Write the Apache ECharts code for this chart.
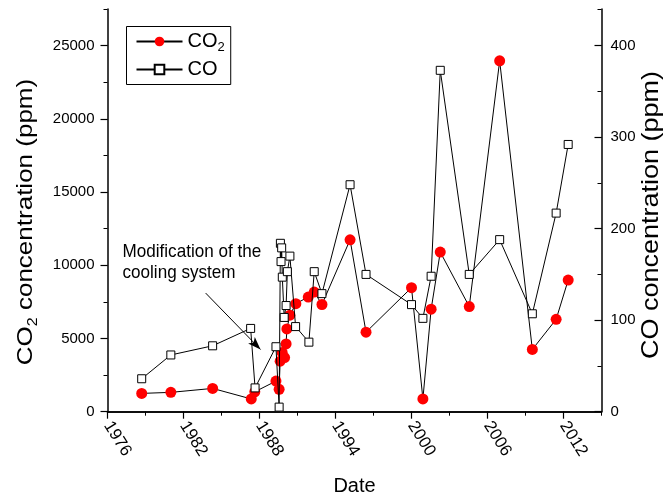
<!DOCTYPE html>
<html>
<head>
<meta charset="utf-8">
<script src="https://cdn.jsdelivr.net/npm/echarts@6/dist/echarts.min.js"></script>
<style>
  html, body { margin: 0; padding: 0; background: #fff; }
  #chart { width: 667px; height: 494px; }
</style>
</head>
<body>
<div id="chart"></div>
<script>
// CO2 measurements (ppm) by decimal year
const co2Years = [1978.7, 1981.0, 1984.3, 1987.35, 1987.63, 1989.3, 1989.55, 1989.63, 1989.79, 1989.98,
  1990.1, 1990.16, 1990.4, 1990.87, 1991.85, 1992.32, 1992.93, 1995.15, 1996.41, 2000.0,
  2000.9, 2001.55, 2002.27, 2004.56, 2006.96, 2009.54, 2011.42, 2012.37];
const co2Values = [1250, 1320, 1590, 870, 1360, 2090, 1530, 3450, 4050, 3700,
  4630, 5650, 6590, 7380, 7830, 8170, 7320, 11740, 5430, 8470,
  870, 7000, 10900, 7180, 23960, 4250, 6310, 8990];

// CO measurements (ppm) by decimal year
const coYears = [1978.7, 1981.0, 1984.3, 1987.3, 1987.65, 1989.3, 1989.55, 1989.65, 1989.7, 1989.75,
  1989.8, 1989.95, 1990.1, 1990.2, 1990.4, 1990.85, 1991.9, 1992.32, 1992.93, 1995.15,
  1996.41, 2000.0, 2000.9, 2001.55, 2002.27, 2004.56, 2006.96, 2009.54, 2011.42, 2012.37];
const coValues = [36, 62, 72, 91, 26, 71, 5, 184, 164, 179,
  147, 103, 116, 153, 170, 93, 76, 153, 129, 248,
  150, 117, 102, 148, 373, 150, 188, 107, 217, 292];

// Axis ranges and titles
const yearRange = [1976, 2015];
const co2Range = [0, 27500];
const coRange = [0, 440];
const co2Title = '{a|CO}{s|2}{a| concentration (ppm)}';
const coTitle = 'CO concentration (ppm)';

const FONT = 'Liberation Sans, Arial, sans-serif';
const BLACK = '#000';

const zip = (xs, ys) => xs.map((x, i) => [x, ys[i]]);
const plain = v => String(v);

const chart = echarts.init(document.getElementById('chart'), null, { renderer: 'canvas' });

// Vertical axis titles, drawn as rotated text so they can be slightly condensed
const sideTitle = (text, x, y, size, rich) => ({
  type: 'text', x, y, rotation: Math.PI / 2, scaleX: 1, scaleY: 0.86, silent: true,
  style: {
    text, x: 0, y: 0, align: 'center', verticalAlign: 'middle',
    font: size + 'px ' + FONT, fill: BLACK, rich
  }
});

const option = {
  animation: false,
  backgroundColor: '#fff',
  grid: { left: 107.5, right: 65.5, top: 9, bottom: 82.3, containLabel: false, outerBoundsMode: 'none' },
  legend: {
    orient: 'vertical',
    left: 126.5,
    top: 26.5,
    padding: [5, 6, 5, 9],
    itemGap: 6,
    itemWidth: 46,
    itemHeight: 12,
    borderColor: BLACK,
    borderWidth: 1,
    textStyle: {
      fontSize: 20, fontFamily: FONT, color: BLACK,
      rich: {
        a: { fontSize: 20, fontFamily: FONT, color: BLACK, lineHeight: 24, verticalAlign: 'middle' },
        s: { fontSize: 13, fontFamily: FONT, color: BLACK, lineHeight: 24, verticalAlign: 'bottom' }
      }
    },
    formatter: name => name === 'CO2' ? '{a|CO}{s|2}' : '{a|' + name + '}',
    data: ['CO2', 'CO']
  },
  xAxis: [
    {
      type: 'value', position: 'bottom', min: yearRange[0], max: yearRange[1], interval: 6,
      name: 'Date', nameLocation: 'middle', nameGap: 65,
      nameTextStyle: { fontSize: 20, fontFamily: FONT, color: BLACK },
      axisLine: { show: true, lineStyle: { color: BLACK, width: 1.5 } },
      axisTick: { show: true, length: 7, lineStyle: { color: BLACK, width: 1.2 } },
      axisLabel: { rotate: -58, margin: 11, fontSize: 17, fontFamily: FONT, color: BLACK, showMaxLabel: false, formatter: plain },
      splitLine: { show: false }
    },
    {
      type: 'value', position: 'bottom', min: yearRange[0], max: yearRange[1], interval: 3,
      axisLine: { show: false },
      axisTick: { show: true, length: 4, lineStyle: { color: BLACK, width: 1 } },
      axisLabel: { show: false },
      splitLine: { show: false }
    },
    {
      type: 'value', position: 'top', min: yearRange[0], max: yearRange[1], interval: 3,
      axisLine: { show: true, lineStyle: { color: BLACK, width: 1.5 } },
      axisTick: { show: true, inside: true, length: 3, lineStyle: { color: BLACK, width: 1 } },
      axisLabel: { show: false },
      splitLine: { show: false }
    }
  ],
  yAxis: [
    {
      type: 'value', position: 'left', min: co2Range[0], max: co2Range[1], interval: 5000,
      axisLine: { show: true, lineStyle: { color: BLACK, width: 1.5 } },
      axisTick: { show: true, length: 7, lineStyle: { color: BLACK, width: 1.2 } },
      axisLabel: { margin: 13, fontSize: 15, fontFamily: FONT, color: BLACK, showMaxLabel: false, formatter: plain },
      splitLine: { show: false }
    },
    {
      type: 'value', position: 'right', min: coRange[0], max: coRange[1], interval: 100,
      axisLine: { show: true, lineStyle: { color: BLACK, width: 1.5 } },
      axisTick: { show: true, inside: true, length: 7, lineStyle: { color: BLACK, width: 1.2 } },
      axisLabel: { margin: 9, fontSize: 15, fontFamily: FONT, color: BLACK, showMaxLabel: false, formatter: plain },
      splitLine: { show: false }
    },
    {
      type: 'value', position: 'left', min: co2Range[0], max: co2Range[1], interval: 2500,
      axisLine: { show: false },
      axisTick: { show: true, length: 4, lineStyle: { color: BLACK, width: 1 } },
      axisLabel: { show: false },
      splitLine: { show: false }
    },
    {
      type: 'value', position: 'right', min: coRange[0], max: coRange[1], interval: 50,
      axisLine: { show: false },
      axisTick: { show: true, inside: true, length: 4, lineStyle: { color: BLACK, width: 1 } },
      axisLabel: { show: false },
      splitLine: { show: false }
    }
  ],
  graphic: [
    sideTitle(co2Title, 26, 222, 26, {
      a: { fontSize: 26, fontFamily: FONT, color: BLACK, lineHeight: 32, verticalAlign: 'middle' },
      s: { fontSize: 16, fontFamily: FONT, color: BLACK, lineHeight: 32, verticalAlign: 'bottom' }
    }),
    sideTitle(coTitle, 652, 215, 27),
    {
      type: 'text', x: 122.5, y: 241.5, scaleX: 0.9, silent: true,
      style: {
        text: 'Modification of the\ncooling system',
        font: '19px ' + FONT, lineHeight: 21, fill: BLACK
      }
    }
  ],
  series: [
    {
      name: 'CO2', type: 'line', xAxisIndex: 0, yAxisIndex: 0,
      data: zip(co2Years, co2Values),
      symbol: 'circle', symbolSize: 11,
      itemStyle: { color: '#ff0000', borderWidth: 0 },
      lineStyle: { color: BLACK, width: 1 },
      markLine: {
        silent: true,
        symbol: ['none', 'arrow'],
        symbolSize: [7, 13],
        label: { show: false },
        lineStyle: { color: BLACK, width: 1, type: 'solid' },
        data: [[{ coord: [1983.75, 8100] }, { coord: [1988.08, 4250] }]]
      },
      z: 2
    },
    {
      name: 'CO', type: 'line', xAxisIndex: 0, yAxisIndex: 1,
      data: zip(coYears, coValues),
      symbol: 'rect', symbolSize: 8,
      itemStyle: { color: '#fff', borderColor: BLACK, borderWidth: 1 },
      lineStyle: { color: BLACK, width: 1 },
      z: 3
    }
  ]
};

chart.setOption(option);
</script>
</body>
</html>
